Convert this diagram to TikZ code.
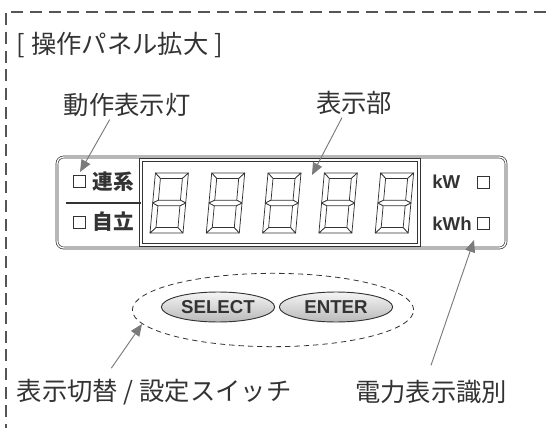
\documentclass[tikz,border=0pt]{standalone}
\usepackage{fontspec}
\setmainfont{Liberation Sans}
\newfontfamily\cjk{Noto Sans CJK JP}
\usetikzlibrary{arrows.meta, positioning, shapes.geometric, fit}
\definecolor{ink}{HTML}{333333}
\definecolor{arrowgray}{HTML}{7A7A7A}
\definecolor{frameline}{HTML}{555555}

\tikzset{
  callout/.style={font=\cjk\fontsize{19}{22}\selectfont, text=ink, inner sep=2pt},
  pointarrow/.style={draw=arrowgray, line width=0.7pt,
    -{Triangle[length=9pt, width=7.5pt, fill=arrowgray]}},
  lampbox/.style={draw=ink, line width=0.6pt, minimum size=9pt, inner sep=0pt},
  paneltext/.style={font=\cjk\bfseries\fontsize{15.5}{17}\selectfont, text=ink, inner sep=0pt},
  unittext/.style={font=\bfseries\fontsize{14}{16}\selectfont, text=ink, inner sep=0pt},
  panelbox/.style={draw=ink, line width=0.5pt, double=white, double distance=1pt,
    rounded corners=5pt, inner sep=0pt, outer sep=0pt},
  dispbox/.style={draw=ink, line width=0.55pt, double=white, double distance=1.6pt,
    inner sep=0pt, outer sep=0pt},
  button/.style={ellipse, draw=ink, line width=0.7pt, top color=gray!8, bottom color=gray!55,
    minimum width=85pt, minimum height=22.5pt, inner sep=0pt,
    font=\bfseries\fontsize{14}{16}\selectfont, text=ink},
  seg/.style={draw=ink, line width=0.55pt, line join=round, fill=white},
  segdigit/.pic={
    \draw[seg] (0,0) -- (33,0) -- (27.5,-5.5) -- (5.5,-5.5) -- cycle;
    \draw[seg] (0,-60) -- (33,-60) -- (27.5,-54.5) -- (5.5,-54.5) -- cycle;
    \draw[seg] (0,-60) -- (5.5,-54.5) -- (5.5,-32.75) -- (0,-30) -- cycle;
    \draw[seg] (0,0) -- (5.5,-5.5) -- (5.5,-27.25) -- (0,-30) -- cycle;
    \draw[seg] (33,-60) -- (27.5,-54.5) -- (27.5,-32.75) -- (33,-30) -- cycle;
    \draw[seg] (33,0) -- (27.5,-5.5) -- (27.5,-27.25) -- (33,-30) -- cycle;
    \draw[seg] (0,-30) -- (5.5,-32.75) -- (27.5,-32.75) -- (33,-30)
      -- (27.5,-27.25) -- (5.5,-27.25) -- cycle;
  }
}

\begin{document}
\begin{tikzpicture}[x=0.75pt, y=-0.75pt]
  \useasboundingbox (0,0) rectangle (546,428);
  % Frame
  \draw[frameline, line width=0.8pt, dash pattern=on 9pt off 5pt] (546,12) -- (6,12) -- (6,428);
  % Title and callouts
  \node[callout, anchor=west] (title) at (14,45) {[ 操作パネル拡大 ]};
  \node[callout] (lampLabel) at (127,105) {動作表示灯};
  \node[callout] (dispLabel) at (354,103) {表示部};
  \node[callout, anchor=west] (switchLabel) at (14,392) {表示切替 / 設定スイッチ};
  \node[callout] (unitLabel) at (431,392) {電力表示識別};
  % Panel
  \node[panelbox, fit={(57,157) (506,248)}] (panel) {};
  \node[dispbox, fit={(141,160) (419,245)}] (display) {};
  % Digits
  \foreach \i in {0,...,4}
    \pic[xslant=0.09] at ({150+56.3*\i},233) {segdigit};
  % Lamps
  \node[lampbox] (lampA) at (79,181.5) {};
  \node[paneltext, right=5pt of lampA] (txtA) {連系};
  \node[lampbox] (lampB) at (79,222) {};
  \node[paneltext, right=5pt of lampB] (txtB) {自立};
  \coordinate (divL) at (66,203);
  \draw[ink, line width=1.1pt] (divL) -- (divL -| display.west);
  % Units
  \node[unittext, anchor=west] (unitW) at (432,182) {kW};
  \node[lampbox] (sqW) at (483,182.5) {};
  \node[unittext, anchor=west] (unitWh) at (432,224) {kWh};
  \node[lampbox] (sqWh) at (483,223.5) {};
  % Buttons
  \node[button] (btnSelect) at (218,307) {SELECT};
  \node[button] (btnEnter) at (336,307) {ENTER};
  \node[ellipse, draw=ink, line width=0.6pt, dash pattern=on 4pt off 3pt,
        minimum width=211pt, minimum height=55pt] (btnGroup) at (273,310) {};
  % Arrows
  \coordinate (lampTip) at (80,172);
  \coordinate (dispTip) at (312,175);
  \coordinate (switchTip) at (142,324);
  \coordinate (unitTip) at (474,240);
  \draw[pointarrow] ([xshift=-13pt]lampLabel.south) -- (lampTip);
  \draw[pointarrow] ([xshift=-9pt]dispLabel.south) -- (dispTip);
  \draw[pointarrow] ([xshift=73pt, yshift=6pt]switchLabel.north west) -- (switchTip);
  \draw[pointarrow] ([yshift=9pt]unitLabel.north) -- (unitTip);
\end{tikzpicture}
\end{document}
